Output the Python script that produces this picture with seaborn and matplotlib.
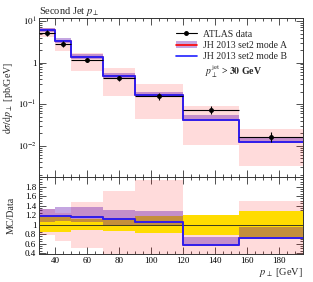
import numpy as np
import matplotlib
matplotlib.use("Agg")
import matplotlib.pyplot as plt
import seaborn as sns
from matplotlib.lines import Line2D
from matplotlib.patches import Patch
from matplotlib.ticker import FixedLocator, FuncFormatter, LogLocator, MultipleLocator, NullFormatter

# bin edges of the second jet pT [GeV]
edges = [30, 40, 50, 70, 90, 120, 155, 195]

# ATLAS data (pb/GeV) and relative uncertainty
data = [5.2, 2.8, 1.18, 0.42, 0.155, 0.074, 0.0166]
data_rel_err = [0.15, 0.15, 0.12, 0.13, 0.18, 0.21, 0.28]

# JH 2013 set2 mode B central value and its band
mc_b = [6.1, 3.33, 1.36, 0.466, 0.162, 0.0422, 0.0120]
mc_b_lo = [5.46, 3.0, 1.24, 0.416, 0.155, 0.0414, 0.0116]
mc_b_hi = [6.92, 3.86, 1.62, 0.546, 0.20, 0.0548, 0.0157]

# JH 2013 set2 mode A (line hidden under mode B) and its wide band
mc_a = [6.1, 3.33, 1.36, 0.466, 0.162, 0.0422, 0.0120]
mc_a_lo = [4.06, 1.85, 0.61, 0.16, 0.044, 0.0104, 0.0033]
mc_a_hi = [6.9, 3.5, 1.73, 0.72, 0.30, 0.089, 0.025]

PINK = (1.0, 0.0, 0.0, 0.14)
PURPLE = (0.34, 0.0, 0.67, 0.35)
YELLOW = "#ffdc00"
BLUE = "#2020ff"


def steps(vals):
    return list(vals) + [vals[-1]]


sns.set_theme(style="ticks")
plt.rcParams["font.family"] = ["Liberation Serif", "DejaVu Serif"]
plt.rcParams["mathtext.fontset"] = "stix"
plt.rcParams["font.size"] = 7

fig = plt.figure(figsize=(3.13, 2.82), dpi=100)
ax1 = fig.add_axes([0.1246, 0.372, 0.8435, 0.564])
ax2 = fig.add_axes([0.1246, 0.099, 0.8435, 0.273], sharex=ax1)

centers = [(a + b) / 2 for a, b in zip(edges[:-1], edges[1:])]
halfw = [(b - a) / 2 for a, b in zip(edges[:-1], edges[1:])]

# ---- main panel
ax1.fill_between(edges, steps(mc_a_lo), steps(mc_a_hi), step="post", color=PINK, lw=0)
ax1.fill_between(edges, steps(mc_b_lo), steps(mc_b_hi), step="post", color=PURPLE, lw=0)
sns.lineplot(x=edges, y=steps(mc_a), drawstyle="steps-post", color="red", lw=1.2, ax=ax1)
sns.lineplot(x=edges, y=steps(mc_b), drawstyle="steps-post", color=BLUE, lw=1.3, ax=ax1)
data_abs_err = [d * e for d, e in zip(data, data_rel_err)]
ax1.errorbar(centers, data, xerr=halfw, yerr=data_abs_err, fmt="o", color="black",
             ms=2.5, lw=0.8, capsize=0, zorder=5)

ax1.set_yscale("log")
ax1.set_ylim(1.75e-3, 11.8)
ax1.set_xlim(30, 195)
ax1.yaxis.set_major_locator(FixedLocator([1e-2, 1e-1, 1, 10]))
ax1.yaxis.set_major_formatter(FuncFormatter(
    lambda v, p: "1" if abs(v - 1) < 1e-9 else r"$10^{%d}$" % round(np.log10(v))))
ax1.yaxis.set_minor_locator(LogLocator(base=10, subs=np.arange(2, 10)))
ax1.yaxis.set_minor_formatter(NullFormatter())
ax1.set_ylabel(r"$\mathrm{d}\sigma/\mathrm{d}p_\perp$ [pb/GeV]", fontsize=7.2)
ax1.yaxis.set_label_coords(-0.09, 0.5)
ax1.tick_params(labelbottom=False)
ax1.set_title(r"Second Jet $p_\perp$", loc="left", fontsize=7.5, pad=3)

# legend
h_data = Line2D([], [], color="black", marker="o", ms=2.5, lw=0.8)
h_a = (Patch(color=PURPLE, lw=0), Line2D([], [], color="red", lw=1.2))
h_b = Line2D([], [], color=BLUE, lw=1.2)
ax1.legend([h_data, h_a, h_b], ["ATLAS data", "JH 2013 set2 mode A", "JH 2013 set2 mode B"],
           loc="upper right", bbox_to_anchor=(0.965, 0.97), frameon=False, fontsize=7,
           handlelength=2.2, handletextpad=0.6, labelspacing=0.25, borderaxespad=0.3)
ax1.text(0.628, 0.66, r"$p_\perp^{\mathrm{jet}}$ > $\mathbf{30}$ GeV", transform=ax1.transAxes,
         fontsize=7, fontweight="bold", ha="left", va="center")

# ---- ratio panel
ratio = [m / d for m, d in zip(mc_b, data)]
ax2.fill_between(edges, steps([l / d for l, d in zip(mc_a_lo, data)]),
                 steps([h / d for h, d in zip(mc_a_hi, data)]), step="post", color=PINK, lw=0)
ax2.fill_between(edges, steps([1 - e for e in data_rel_err]), steps([1 + e for e in data_rel_err]),
                 step="post", color=YELLOW, lw=0)
ax2.fill_between(edges, steps([l / d for l, d in zip(mc_b_lo, data)]),
                 steps([h / d for h, d in zip(mc_b_hi, data)]), step="post", color=PURPLE, lw=0)
ax2.axhline(1.0, color="#3a3a20", lw=0.7)
sns.lineplot(x=edges, y=steps([m / d for m, d in zip(mc_a, data)]), drawstyle="steps-post",
             color="red", lw=1.2, ax=ax2)
sns.lineplot(x=edges, y=steps(ratio), drawstyle="steps-post", color=BLUE, lw=1.3, ax=ax2)

ax2.set_ylim(0.38, 2.0)
ax2.yaxis.set_major_locator(FixedLocator([0.4, 0.6, 0.8, 1.0, 1.2, 1.4, 1.6, 1.8]))
ax2.yaxis.set_major_formatter(FuncFormatter(lambda v, p: "1" if abs(v - 1) < 1e-9 else f"{v:.1f}"))
ax2.yaxis.set_minor_locator(MultipleLocator(0.05))
ax2.xaxis.set_major_locator(MultipleLocator(20))
ax2.xaxis.set_minor_locator(MultipleLocator(5))
ax2.set_ylabel("MC/Data", fontsize=7.2)
ax2.yaxis.set_label_coords(-0.09, 0.5)
ax2.set_xlabel(r"$p_\perp$ [GeV]", fontsize=7.5, loc="right", labelpad=1)

for ax in (ax1, ax2):
    ax.tick_params(which="both", direction="in", top=True, right=True, width=0.6,
                   colors="#333333", labelcolor="black", labelsize=6.5, pad=2)
    ax.tick_params(which="major", length=5)
    ax.tick_params(which="minor", length=2.5)
    for s in ax.spines.values():
        s.set_linewidth(0.7)
        s.set_color("#333333")
ax1.xaxis.set_major_locator(MultipleLocator(20))
ax1.xaxis.set_minor_locator(MultipleLocator(5))
ax1.set_xlabel("")

fig.savefig("out.png", dpi=100)
